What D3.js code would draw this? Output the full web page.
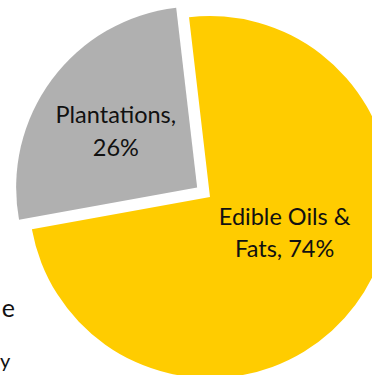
<!DOCTYPE html>
<html>
<head>
<meta charset="utf-8">
<script src="https://cdn.jsdelivr.net/npm/d3@7/dist/d3.min.js"></script>
<style>
  html, body { margin: 0; padding: 0; background: #ffffff; }
  svg { display: block; }
  text { font-family: Lato, "Open Sans", sans-serif; fill: #111; }
</style>
</head>
<body>
<svg id="chart" width="372" height="375"></svg>
<script>
// ---- data ----
const categories = ["Edible Oils & Fats", "Plantations"];
const values = [74, 26];
const labelLines = [["Edible Oils &", "Fats, 74%"], ["Plantations,", "26%"]];
const colors = ["#FFCC00", "#B0B0B0"];
const explode = [0, 16];
// partially visible text from outside the crop (left margin)
const sideText = ["e", "y"];

// ---- layout ----
const cx = 210, cy = 197, radius = 181;
const startDeg = -6.65;
const svg = d3.select("#chart");
const g = svg.append("g").attr("transform", `translate(${cx},${cy})`);

const pie = d3.pie()
  .sort(null)
  .value(d => d)
  .startAngle(startDeg * Math.PI / 180)
  .endAngle(startDeg * Math.PI / 180 + 2 * Math.PI);

const arcs = pie(values);
const arc = d3.arc().innerRadius(0).outerRadius(radius);

function offset(d, i) {
  const a = (d.startAngle + d.endAngle) / 2;
  return [Math.sin(a) * explode[i], -Math.cos(a) * explode[i]];
}

g.selectAll("path.slice")
  .data(arcs)
  .join("path")
  .attr("class", "slice")
  .attr("d", arc)
  .attr("fill", (d, i) => colors[i])
  .attr("transform", (d, i) => {
    const [ox, oy] = offset(d, i);
    return `translate(${ox},${oy})`;
  });

// labels
const labelRadius = [88, 100];
const nudge = [[4, -17], [-1, 3]];
const fontSize = 23.5, lineH = 32.5;
arcs.forEach((d, i) => {
  const a = (d.startAngle + d.endAngle) / 2;
  const [ox, oy] = offset(d, i);
  const x = ox + Math.sin(a) * labelRadius[i] + nudge[i][0];
  const y = oy - Math.cos(a) * labelRadius[i] + nudge[i][1];
  const lines = labelLines[i];
  const t = g.append("text")
    .attr("text-anchor", "middle")
    .attr("font-size", fontSize);
  lines.forEach((ln, k) => {
    t.append("tspan")
      .attr("x", x)
      .attr("y", y + (k - (lines.length - 1) / 2) * lineH + fontSize * 0.36)
      .text(ln);
  });
});

// text at the left edge
svg.append("text").attr("x", 15).attr("y", 317).attr("text-anchor", "end")
  .attr("font-size", 25).text(sideText[0]);
svg.append("text").attr("x", 0).attr("y", 368).attr("text-anchor", "start")
  .attr("font-size", 20).text(sideText[1]);
</script>
</body>
</html>
